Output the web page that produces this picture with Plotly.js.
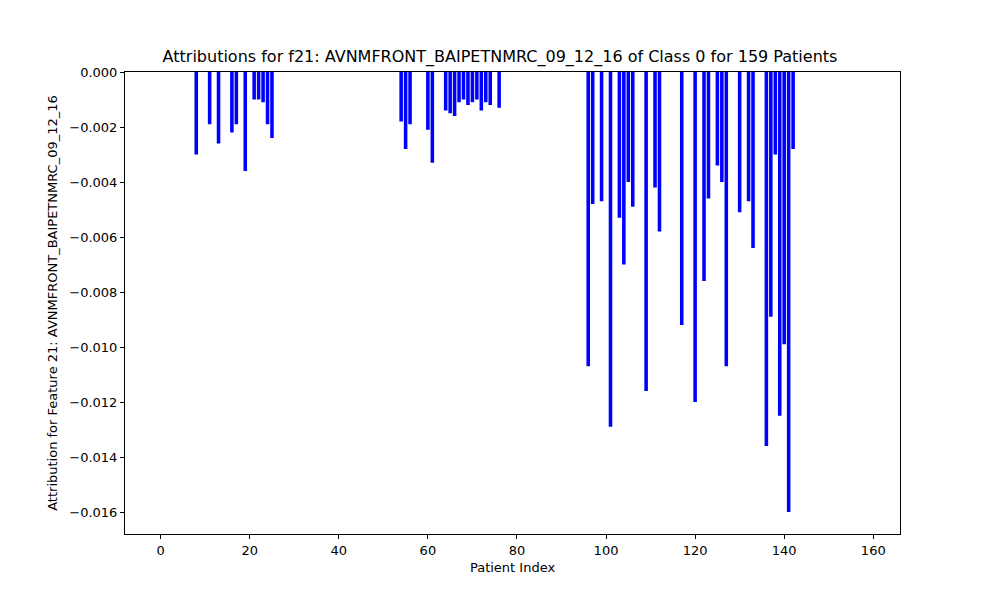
<!DOCTYPE html>
<html><head><script src="https://cdn.plot.ly/plotly-3.0.1.min.js"></script></head>
<body style="margin:0"><div id="chart" style="width:1000px;height:600px"></div>
<script>
var patients = [8,11,13,16,17,19,21,22,23,24,25,
  54,55,56,60,61,64,65,66,67,68,69,70,71,72,73,74,76,
  96,97,99,101,103,104,105,106,109,111,112,117,120,122,123,125,126,127,130,132,133,136,137,138,139,140,141,142];
var attributions = [-0.0030,-0.0019,-0.0026,-0.0022,-0.0019,-0.0036,-0.0010,-0.0010,-0.0011,-0.0019,-0.0024,
  -0.0018,-0.0028,-0.0019,-0.0021,-0.0033,-0.0014,-0.0015,-0.0016,-0.0011,-0.0010,-0.0012,-0.0011,-0.0010,-0.0014,-0.0011,-0.0012,-0.0013,
  -0.0107,-0.0048,-0.0047,-0.0129,-0.0053,-0.0070,-0.0040,-0.0049,-0.0116,-0.0042,-0.0058,-0.0092,-0.0120,-0.0076,-0.0046,-0.0034,-0.0040,-0.0107,-0.0051,-0.0047,-0.0064,-0.0136,-0.0089,-0.0030,-0.0125,-0.0099,-0.0160,-0.0028];

var data = [{
  x: patients, y: attributions, type: 'bar', width: 0.8,
  marker: {color: 'blue'}
}];

var axisStyle = {showgrid: false, zeroline: false, showline: true, mirror: true, linecolor: 'black',
  ticks: 'outside', ticklen: 4, tickcolor: 'black', tickfont: {size: 13}};

var layout = {
  width: 1000, height: 600,
  font: {family: 'DejaVu Sans', color: 'black'},
  margin: {l: 125, r: 100, t: 72, b: 66},
  title: {text: 'Attributions for f21: AVNMFRONT_BAIPETNMRC_09_12_16 of Class 0 for 159 Patients',
    font: {size: 16}, x: 0.5, y: 0.915},
  xaxis: Object.assign({}, axisStyle, {range: [-8, 166], tickvals: [0,20,40,60,80,100,120,140,160],
    title: {text: 'Patient Index', font: {size: 13}, standoff: 6}}),
  yaxis: Object.assign({}, axisStyle, {range: [-0.0168, 0], tickformat: '.3f', dtick: 0.002,
    title: {text: 'Attribution for Feature 21: AVNMFRONT_BAIPETNMRC_09_12_16', font: {size: 13}, standoff: 8}}),
  plot_bgcolor: 'white', paper_bgcolor: 'white', showlegend: false
};

Plotly.newPlot('chart', data, layout, {displayModeBar: false});
</script></body></html>
